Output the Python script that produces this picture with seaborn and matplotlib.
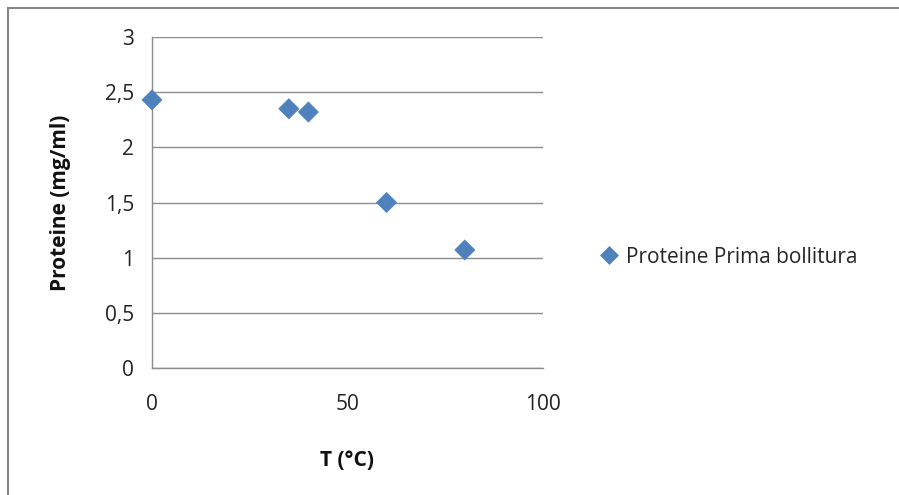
import matplotlib
matplotlib.use("Agg")
import matplotlib.pyplot as plt
import seaborn as sns
import pandas as pd
from matplotlib.patches import Rectangle

temperature = [0, 35, 40, 60, 80]
protein = [2.43, 2.35, 2.32, 1.50, 1.07]
series_name = "Proteine Prima bollitura"
x_ticks = [0, 50, 100]
y_ticks = [0, 0.5, 1, 1.5, 2, 2.5, 3]
y_tick_labels = ["0", "0,5", "1", "1,5", "2", "2,5", "3"]

sns.set_theme(style="white")
plt.rcParams["font.family"] = ["Open Sans", "DejaVu Sans"]

df = pd.DataFrame({"T": temperature, "P": protein, "serie": series_name})

W, H = 899, 495
fig = plt.figure(figsize=(W / 100, H / 100), dpi=100)
ax = fig.add_axes([152 / W, 1 - 368 / H, (543 - 152) / W, (368 - 37) / H])

# outer chart frame
fig.patches.append(Rectangle((8 / W, -0.1), 1.2, 1 - 8 / H + 0.1,
                             transform=fig.transFigure, fill=False,
                             edgecolor="#868686", linewidth=1.5))

blue = "#4F81BD"
sns.scatterplot(data=df, x="T", y="P", hue="serie", palette=[blue],
                marker="D", s=105, edgecolor=blue, linewidth=0.5, ax=ax,
                zorder=5, clip_on=False)

ax.set_xlim(0, 100)
ax.set_ylim(0, 3)
ax.set_xticks(x_ticks)
ax.set_xticklabels([str(v) for v in x_ticks])
ax.set_yticks(y_ticks)
ax.set_yticklabels(y_tick_labels)

grid_c = "#8c8c8c"
ax.grid(axis="y", color=grid_c, linewidth=1)
ax.grid(axis="x", visible=False)
ax.set_axisbelow(True)
for side in ["top", "right"]:
    ax.spines[side].set_visible(False)
for side in ["left", "bottom"]:
    ax.spines[side].set_color(grid_c)
    ax.spines[side].set_linewidth(1)

fs = 15
ax.tick_params(axis="both", colors=grid_c, labelcolor="#222222",
               labelsize=fs, length=7, width=1, direction="out")
ax.tick_params(axis="x", pad=12)
ax.tick_params(axis="y", pad=6)

ax.set_xlabel("T (°C)", fontsize=fs, fontweight="bold", color="#111111", labelpad=25)
ax.set_ylabel("Proteine (mg/ml)", fontsize=fs, fontweight="bold", color="#111111", labelpad=24)

ax.legend(loc="center left", bbox_to_anchor=(1.09, 0.335), frameon=False,
          fontsize=fs, handletextpad=-0.2, markerscale=0.85, borderpad=0)

fig.savefig("out.png", dpi=100)
